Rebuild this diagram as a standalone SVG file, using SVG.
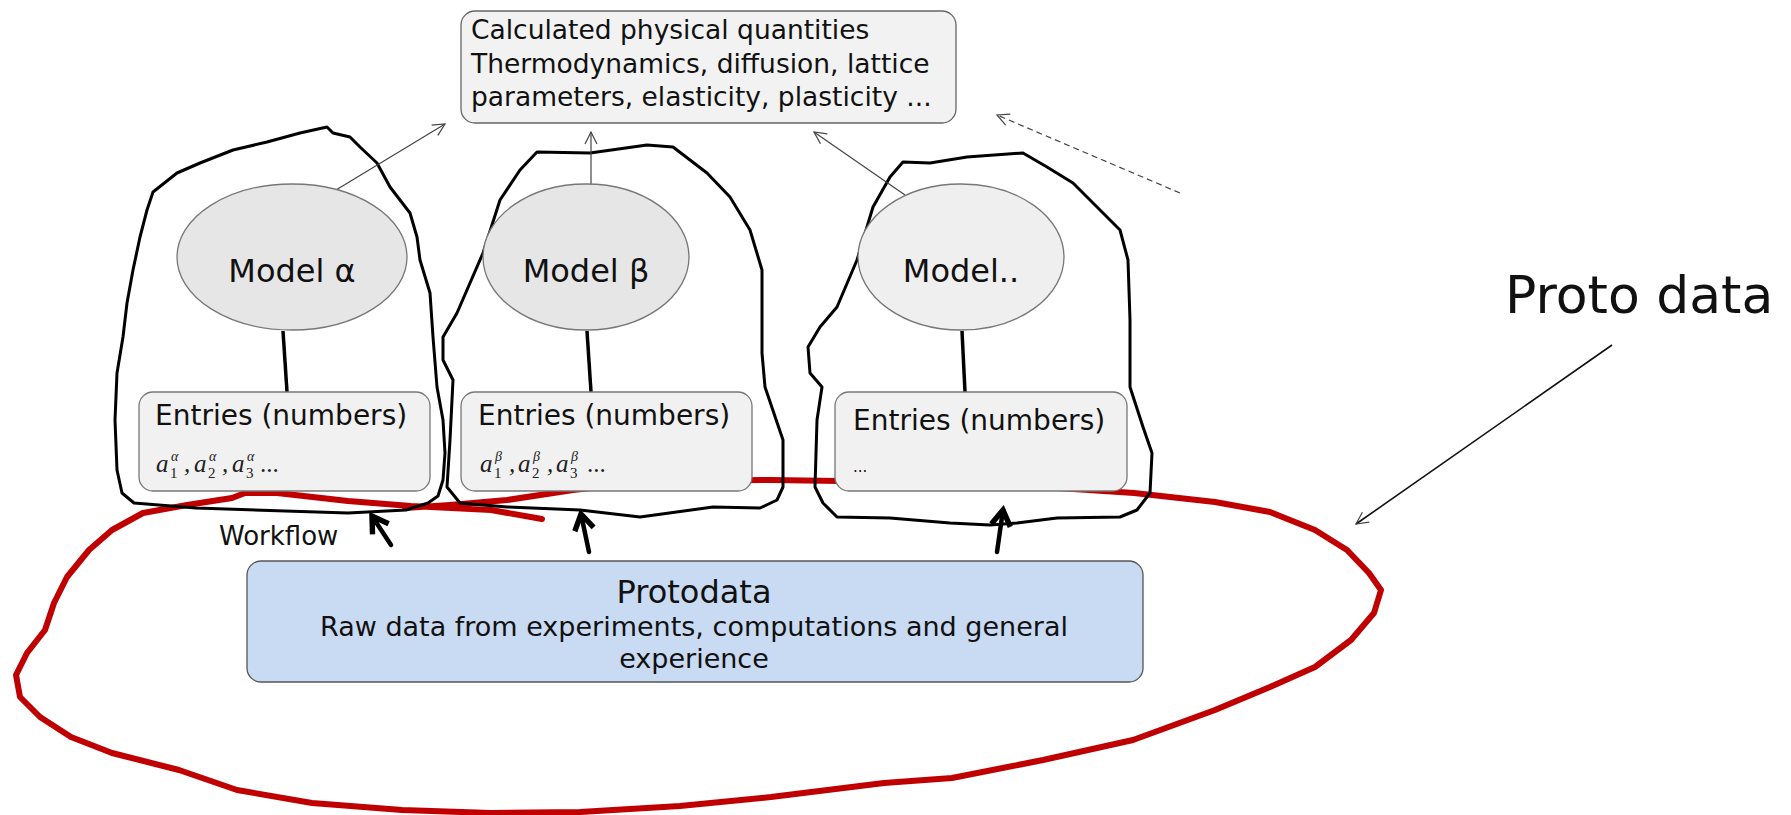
<svg xmlns="http://www.w3.org/2000/svg" width="1791" height="815" viewBox="0 0 1791 815">
<style>
.t{font-family:"DejaVu Sans",Verdana,sans-serif;fill:#111}
.m{font-family:"Liberation Serif","Times New Roman",serif;font-style:italic;fill:#222}
.blob{fill:none;stroke:#000;stroke-width:3;stroke-linejoin:round;stroke-linecap:round}
.ell{stroke:#777;stroke-width:1.3}
.box{fill:#f1f1f1;stroke:#777;stroke-width:1.3}
.thin{fill:none;stroke:#444;stroke-width:1.2}
.thick{fill:none;stroke:#000;stroke-width:4.5;stroke-linecap:round}
.link{stroke:#000;stroke-width:3.5}
</style>
<defs>
<marker id="ah" markerUnits="userSpaceOnUse" markerWidth="16" markerHeight="16" refX="13" refY="7" orient="auto" viewBox="0 0 16 14">
<path d="M1,1 L13,7 L1,13" fill="none" stroke="#444" stroke-width="1.2"/>
</marker>
<marker id="ahb" markerUnits="userSpaceOnUse" markerWidth="24" markerHeight="24" refX="16" refY="10" orient="auto" viewBox="0 0 20 20">
<path d="M3,2 L16,10 L3,18" fill="none" stroke="#000" stroke-width="4.5" stroke-linejoin="miter"/>
</marker>
</defs>

<g id="red-loop">
<path d="M542,519 L491,510 L411,506 L348,501 L277,493 L245,493 L232,498 L187,505 L143,513 L112,530 L89,550 L67,577 L54,603 L45,630 L27,653 L16,675 L20,697 L40,717 L71,737 L112,753 L179,770 L237,790 L312,803 L402,810 L491,813 L580,812 L680,806 L771,797 L884,783 L952,778 L1043,760 L1133,740 L1215,710 L1270,687 L1315,667 L1351,640 L1374,613 L1381,590 L1369,573 L1347,550 L1315,530 L1270,512 L1215,502 L1134,493 L1043,487 L907,482 L771,480 L653,481 L573,490 L507,500 L450,505 L405,508" fill="none" stroke="#c00000" stroke-width="6" stroke-linejoin="round" stroke-linecap="round"/>
</g>

<g id="blob-alpha">
<path class="blob" d="M327,127 L333,133 L350,137 L360,147 L377,163 L390,187 L410,213 L417,237 L420,260 L430,293 L433,337 L437,387 L443,420 L445,453 L443,480 L438,496 L428,503 L406,510 L348,513 L196,508 L134,503 L122,493 L117,470 L115,420 L117,373 L123,337 L127,303 L133,270 L140,237 L147,210 L153,192 L177,173 L200,163 L233,150 L267,142 L300,133 Z"/>
</g>
<g id="blob-beta">
<path class="blob" d="M537,152 L590,153 L647,145 L673,147 L707,173 L730,197 L750,230 L762,270 L762,353 L765,387 L783,440 L783,487 L777,500 L760,508 L713,507 L640,517 L580,510 L507,507 L460,503 L447,487 L450,440 L453,380 L443,360 L443,337 L457,313 L483,253 L500,200 L520,170 Z"/>
</g>
<g id="blob-3">
<path class="blob" d="M903,162 L930,163 L967,157 L1023,153 L1047,167 L1073,183 L1097,207 L1120,230 L1128,260 L1130,320 L1130,387 L1143,427 L1152,453 L1150,493 L1137,510 L1120,517 L1057,518 L1017,523 L990,525 L950,523 L890,518 L837,517 L823,503 L815,487 L817,420 L822,387 L810,373 L808,347 L820,327 L837,307 L857,260 L873,207 L890,177 Z"/>
</g>

<g id="connectors">
<line x1="293" y1="216" x2="445" y2="124" class="thin" marker-end="url(#ah)"/>
<line x1="591" y1="223" x2="591" y2="132" class="thin" marker-end="url(#ah)"/>
<line x1="905" y1="195" x2="814" y2="132" class="thin" marker-end="url(#ah)"/>
<line x1="1180" y1="193" x2="997" y2="115" class="thin" stroke-dasharray="6,4" marker-end="url(#ah)"/>
<line x1="1612" y1="345" x2="1356" y2="524" stroke="#111" stroke-width="1.6" marker-end="url(#ah)"/>
<line x1="283" y1="331" x2="287" y2="392" class="link"/>
<line x1="587" y1="331" x2="591" y2="392" class="link"/>
<line x1="962" y1="331" x2="965" y2="392" class="link"/>
<line x1="391" y1="545" x2="372" y2="516" class="thick" marker-end="url(#ahb)"/>
<line x1="589" y1="552" x2="581" y2="514" class="thick" marker-end="url(#ahb)"/>
<line x1="997" y1="552" x2="1003" y2="510" class="thick" marker-end="url(#ahb)"/>
</g>

<g id="calc-box">
<rect x="461" y="11" width="495" height="112" rx="14" fill="#f2f2f2" stroke="#666" stroke-width="1.3"/>
<text class="t" x="471" y="39" font-size="26.5">Calculated physical quantities</text>
<text class="t" x="471" y="73" font-size="26.5">Thermodynamics, diffusion, lattice</text>
<text class="t" x="471" y="106" font-size="26.5">parameters, elasticity, plasticity ...</text>
</g>

<g id="model-alpha">
<ellipse class="ell" cx="292" cy="257" rx="115" ry="73" fill="#e6e6e6"/>
<text class="t" x="292" y="282" font-size="32" text-anchor="middle">Model α</text>
</g>
<g id="model-beta">
<ellipse class="ell" cx="586" cy="257" rx="103" ry="73" fill="#e6e6e6"/>
<text class="t" x="586" y="282" font-size="32" text-anchor="middle">Model β</text>
</g>
<g id="model-3">
<ellipse class="ell" cx="961" cy="257" rx="103" ry="73" fill="#efefef"/>
<text class="t" x="961" y="282" font-size="32" text-anchor="middle">Model..</text>
</g>

<g id="entries-alpha">
<rect class="box" x="139" y="392" width="291" height="99" rx="14"/>
<text class="t" x="155" y="425" font-size="28">Entries (numbers)</text>
<text class="m" font-size="25"><tspan x="156" y="472">a</tspan><tspan x="170" y="478" font-size="15" font-style="normal">1</tspan><tspan x="171" y="461" font-size="14">α</tspan><tspan x="184" y="472">,</tspan><tspan x="194" y="472">a</tspan><tspan x="208" y="478" font-size="15" font-style="normal">2</tspan><tspan x="209" y="461" font-size="14">α</tspan><tspan x="222" y="472">,</tspan><tspan x="232" y="472">a</tspan><tspan x="246" y="478" font-size="15" font-style="normal">3</tspan><tspan x="247" y="461" font-size="14">α</tspan><tspan x="260" y="472" font-style="normal">...</tspan></text>
</g>
<g id="entries-beta">
<rect class="box" x="461" y="392" width="291" height="99" rx="14"/>
<text class="t" x="478" y="425" font-size="28">Entries (numbers)</text>
<text class="m" font-size="25"><tspan x="480" y="472">a</tspan><tspan x="494" y="478" font-size="15" font-style="normal">1</tspan><tspan x="495" y="461" font-size="14">β</tspan><tspan x="509" y="472">,</tspan><tspan x="518" y="472">a</tspan><tspan x="532" y="478" font-size="15" font-style="normal">2</tspan><tspan x="533" y="461" font-size="14">β</tspan><tspan x="547" y="472">,</tspan><tspan x="556" y="472">a</tspan><tspan x="570" y="478" font-size="15" font-style="normal">3</tspan><tspan x="571" y="461" font-size="14">β</tspan><tspan x="587" y="472" font-style="normal">...</tspan></text>
</g>
<g id="entries-3">
<rect class="box" x="835" y="392" width="292" height="99" rx="14"/>
<text class="t" x="853" y="430" font-size="28">Entries (numbers)</text>
<text class="t" x="853" y="472" font-size="15">...</text>
</g>

<g id="protodata">
<rect x="247" y="561" width="896" height="121" rx="14" fill="#c9daf3" stroke="#555" stroke-width="1.3"/>
<text class="t" x="694" y="603" font-size="32" text-anchor="middle">Protodata</text>
<text class="t" x="694" y="636" font-size="27" text-anchor="middle">Raw data from experiments, computations and general</text>
<text class="t" x="694" y="668" font-size="27" text-anchor="middle">experience</text>
</g>

<g id="labels">
<text class="t" x="219" y="545" font-size="26">Workflow</text>
<text class="t" x="1505" y="313" font-size="52">Proto data</text>
</g>
</svg>
